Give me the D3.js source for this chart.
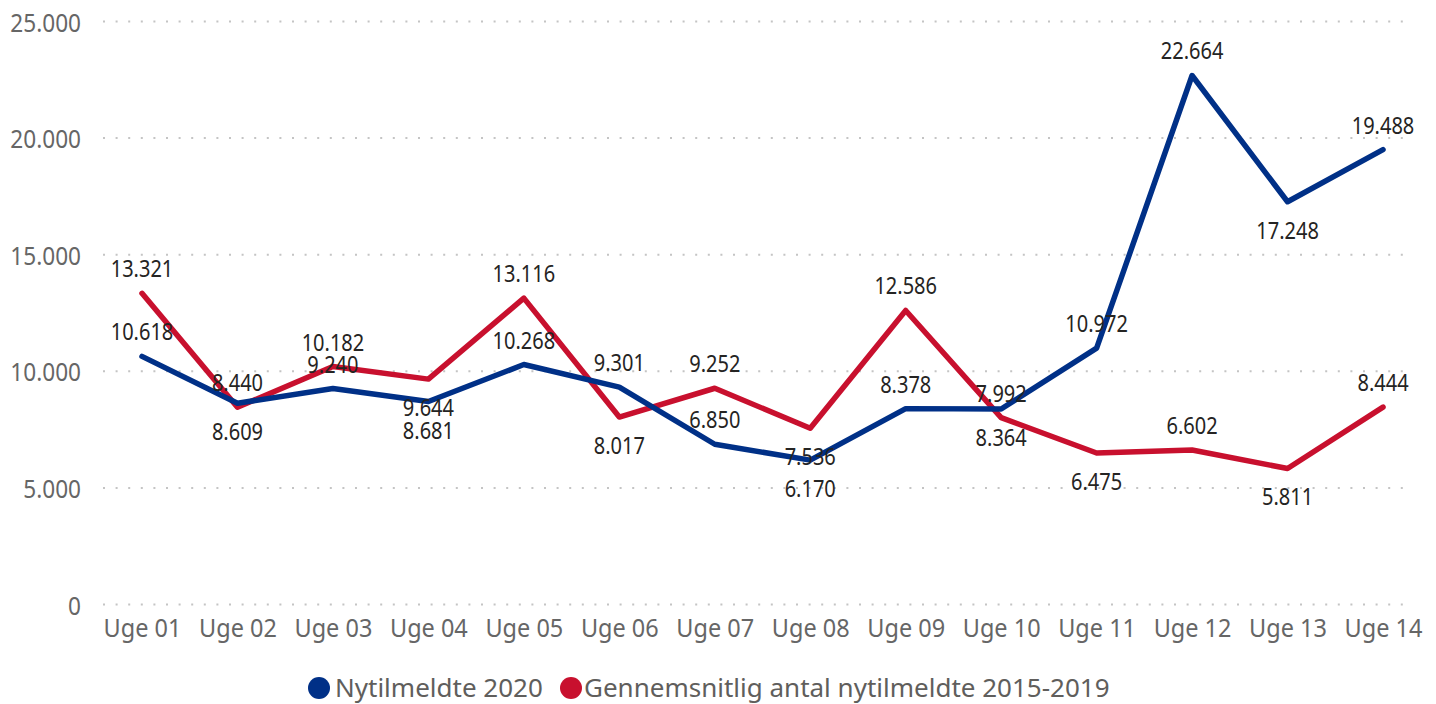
<!DOCTYPE html>
<html>
<head>
<meta charset="utf-8">
<script src="https://cdn.jsdelivr.net/npm/d3@7"></script>
<style>
  html, body { margin: 0; padding: 0; background: #fff; }
  svg { display: block; font-family: "Noto Sans", sans-serif; }
</style>
</head>
<body>
<svg id="chart"></svg>
<script>
// data
const weeks = ["Uge 01","Uge 02","Uge 03","Uge 04","Uge 05","Uge 06","Uge 07",
               "Uge 08","Uge 09","Uge 10","Uge 11","Uge 12","Uge 13","Uge 14"];
const nytilmeldte2020 = [10618, 8609, 9240, 8681, 10268, 9301, 6850, 6170, 8378, 8364, 10972, 22664, 17248, 19488];
const gennemsnit = [13321, 8440, 10182, 9644, 13116, 8017, 9252, 7536, 12586, 7992, 6475, 6602, 5811, 8444];
// label side per point: "a" = above, "b" = below
const side2020 = ["a","b","a","b","a","a","a","b","a","b","a","a","b","a"];
const sideSnit = ["a","a","a","b","a","b","a","b","a","a","b","a","b","a"];
const yTicks = [0, 5000, 10000, 15000, 20000, 25000];
const seriesNames = ["Nytilmeldte 2020", "Gennemsnitlig antal nytilmeldte 2015-2019"];

const width = 1436, height = 704;
const blue = "#003087", red = "#c8102e";
const sx = 0.87;   // narrow the number glyphs a little
const sxTick = 0.94;

const svg = d3.select("#chart").attr("width", width).attr("height", height);

const fmt = d3.formatLocale({ decimal: ",", thousands: ".", grouping: [3], currency: ["", " kr."] }).format(",d");

const x = d3.scalePoint().domain(weeks).range([142, 1383]);
const y = d3.scaleLinear().domain([0, 25000]).range([604, 21]);

// y axis + dotted grid
const gridLeft = 103, gridRight = 1411;
const yAxis = svg.append("g")
  .attr("transform", `translate(${gridLeft},0)`)
  .call(d3.axisLeft(y).tickValues(yTicks).tickFormat(fmt).tickSize(-(gridRight - gridLeft)).tickPadding(0));
yAxis.select(".domain").remove();
yAxis.selectAll(".tick line")
  .attr("stroke", "#c4c4c4")
  .attr("stroke-width", 2)
  .attr("stroke-dasharray", "2,10.6");
yAxis.selectAll(".tick text")
  .attr("x", -22 / sx)
  .attr("y", 10)
  .attr("dy", 0)
  .attr("transform", `scale(${sx},1)`)
  .attr("fill", "#666")
  .attr("font-size", "26px")
  .attr("font-family", "Noto Sans");

// x axis
const xAxis = svg.append("g")
  .attr("transform", `translate(0,${y(0)})`)
  .call(d3.axisBottom(x).tickSize(0).tickPadding(0));
xAxis.select(".domain").remove();
xAxis.selectAll(".tick text")
  .attr("y", 33)
  .attr("dy", 0)
  .attr("transform", `scale(${sxTick},1)`)
  .attr("fill", "#666")
  .attr("font-size", "25px")
  .attr("font-family", "Noto Sans");

// lines
const line = d3.line().x((d, i) => x(weeks[i])).y(d => y(d));

const series = [
  { name: seriesNames[0], values: nytilmeldte2020, sides: side2020, color: blue },
  { name: seriesNames[1], values: gennemsnit, sides: sideSnit, color: red }
];

// red drawn first, blue on top
[series[1], series[0]].forEach(s => {
  svg.append("path")
    .datum(s.values)
    .attr("d", line)
    .attr("fill", "none")
    .attr("stroke", s.color)
    .attr("stroke-width", 5.5)
    .attr("stroke-linejoin", "round")
    .attr("stroke-linecap", "round");
});

// data labels
series.forEach(s => {
  svg.append("g").selectAll("text")
    .data(s.values)
    .join("text")
    .attr("transform", (d, i) => {
      const ty = s.sides[i] === "a" ? y(d) - 16 : y(d) + 37;
      return `translate(${x(weeks[i])},${ty}) scale(${sx},1)`;
    })
    .attr("text-anchor", "middle")
    .attr("font-size", "23px")
    .attr("fill", "#252423")
    .text(d => fmt(d));
});

// legend
const legend = svg.append("g").attr("class", "legend");
const legendItems = [
  { label: seriesNames[0], color: blue, cx: 319, tx: 335 },
  { label: seriesNames[1], color: red, cx: 571, tx: 584 }
];
legendItems.forEach(d => {
  legend.append("circle")
    .attr("cx", d.cx)
    .attr("cy", 688)
    .attr("r", 11)
    .attr("fill", d.color);
  legend.append("text")
    .attr("x", d.tx)
    .attr("y", 696.5)
    .attr("font-size", "26px")
    .attr("fill", "#605e5c")
    .text(d.label);
});
</script>
</body>
</html>
